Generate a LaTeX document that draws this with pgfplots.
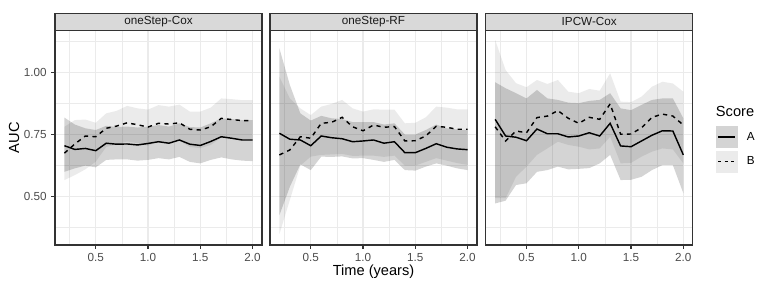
\documentclass[border=0pt]{standalone}
\usepackage{fontspec}
\setmainfont{Liberation Sans}
\usepackage{pgfplots}
\usepackage{pgfplotstable}
\pgfplotsset{compat=1.18}
\usepgfplotslibrary{fillbetween}
\definecolor{grid92}{gray}{0.92}
\definecolor{g20}{gray}{0.2}
\definecolor{g30}{gray}{0.3}
\definecolor{g85}{gray}{0.85}
\definecolor{g10}{gray}{0.1}

\pgfplotstableread{
t   A     Alo   Ahi   B     Blo   Bhi
0.2 0.705 0.600 0.818 0.675 0.567 0.781
0.3 0.690 0.614 0.790 0.712 0.587 0.808
0.4 0.694 0.625 0.775 0.744 0.610 0.810
0.5 0.685 0.618 0.768 0.741 0.641 0.797
0.6 0.715 0.648 0.785 0.775 0.700 0.835
0.7 0.711 0.650 0.780 0.784 0.710 0.845
0.8 0.712 0.650 0.782 0.797 0.722 0.865
0.9 0.708 0.645 0.778 0.789 0.715 0.855
1.0 0.714 0.648 0.782 0.780 0.705 0.850
1.1 0.721 0.655 0.788 0.795 0.722 0.868
1.2 0.715 0.650 0.782 0.792 0.718 0.862
1.3 0.728 0.660 0.795 0.797 0.725 0.870
1.4 0.711 0.640 0.780 0.771 0.700 0.842
1.5 0.706 0.634 0.778 0.768 0.695 0.842
1.6 0.722 0.648 0.795 0.781 0.708 0.858
1.7 0.741 0.658 0.815 0.815 0.738 0.895
1.8 0.735 0.650 0.812 0.810 0.735 0.892
1.9 0.728 0.645 0.808 0.806 0.730 0.888
2.0 0.728 0.643 0.808 0.806 0.728 0.888
}\pone

\pgfplotstableread{
t   A     Alo   Ahi   B     Blo   Bhi
0.2 0.755 0.426 1.096 0.668 0.350 0.982
0.3 0.731 0.540 0.949 0.688 0.487 0.895
0.4 0.728 0.630 0.835 0.741 0.625 0.855
0.5 0.705 0.607 0.806 0.735 0.661 0.828
0.6 0.744 0.661 0.825 0.795 0.668 0.862
0.7 0.737 0.660 0.815 0.799 0.670 0.873
0.8 0.733 0.662 0.812 0.819 0.672 0.889
0.9 0.721 0.654 0.800 0.781 0.664 0.855
1.0 0.724 0.655 0.800 0.765 0.665 0.842
1.1 0.728 0.648 0.800 0.788 0.665 0.851
1.2 0.715 0.640 0.790 0.779 0.660 0.850
1.3 0.721 0.648 0.795 0.782 0.665 0.850
1.4 0.677 0.607 0.750 0.724 0.625 0.795
1.5 0.677 0.605 0.750 0.725 0.625 0.797
1.6 0.694 0.621 0.768 0.744 0.640 0.819
1.7 0.713 0.634 0.790 0.783 0.655 0.862
1.8 0.699 0.625 0.775 0.779 0.645 0.858
1.9 0.692 0.614 0.770 0.771 0.635 0.851
2.0 0.689 0.607 0.768 0.771 0.628 0.851
}\ptwo

\pgfplotstableread{
t   A     Alo   Ahi   B     Blo   Bhi
0.2 0.811 0.473 0.960 0.781 0.494 1.130
0.3 0.744 0.484 0.936 0.724 0.494 1.009
0.4 0.739 0.547 0.916 0.764 0.580 0.956
0.5 0.725 0.554 0.895 0.757 0.621 0.940
0.6 0.772 0.600 0.929 0.818 0.668 0.969
0.7 0.753 0.607 0.895 0.824 0.694 0.953
0.8 0.753 0.621 0.889 0.846 0.721 0.969
0.9 0.740 0.610 0.878 0.815 0.708 0.922
1.0 0.744 0.612 0.876 0.795 0.701 0.916
1.1 0.757 0.615 0.885 0.819 0.690 0.933
1.2 0.744 0.634 0.889 0.811 0.694 0.926
1.3 0.795 0.668 0.916 0.873 0.741 0.996
1.4 0.704 0.567 0.855 0.751 0.634 0.882
1.5 0.701 0.568 0.848 0.752 0.636 0.880
1.6 0.724 0.580 0.869 0.777 0.661 0.902
1.7 0.747 0.607 0.889 0.819 0.681 0.942
1.8 0.765 0.627 0.895 0.832 0.694 0.962
1.9 0.764 0.627 0.895 0.824 0.690 0.955
2.0 0.668 0.514 0.815 0.788 0.634 0.922
}\pthree

\pgfplotsset{
  panel/.style={
    scale only axis, width=155.25bp, height=160.7bp,
    xmin=0.11, xmax=2.09, ymin=0.306, ymax=1.167,
    xtick={0.5,1,1.5,2}, ytick={0.5,0.75,1},
    minor xtick={0.25,0.75,1.25,1.75}, minor ytick={0.375,0.625,0.875,1.125},
    grid=both,
    major grid style={color=grid92, line width=1.07bp},
    minor grid style={color=grid92, line width=0.53bp},
    axis line style={g20, line width=0.9bp},
    tick align=outside, tick pos=left,
    major tick length=2.75pt, minor tick length=0pt,
    tick style={g20, line width=0.9bp},
    xticklabel style={font=\fontsize{8.8}{10}\selectfont, text=g30,
      /pgf/number format/.cd, fixed, fixed zerofill, precision=1, assume math mode=true},
    yticklabel style={font=\fontsize{8.8}{10}\selectfont, text=g30,
      /pgf/number format/.cd, fixed, fixed zerofill, precision=2, assume math mode=true},
    every axis title shift=0pt,
    title style={at={(0.5,1)}, anchor=south, fill=g85, draw=g20, line width=0.9bp,
      minimum width=155.25bp, minimum height=12.5bp, inner sep=0pt, text=g10,
      font=\fontsize{8.8}{10}\selectfont, yshift=0pt},
  },
  inner/.style={yticklabels={}, ytick style={draw=none}},
}

\begin{document}
\begin{tikzpicture}

\begin{axis}[panel, at={(41.25bp,32.25bp)}, anchor=south west,
  title={oneStep-Cox},
  ylabel={AUC},
  ylabel style={at={(axis description cs:-0.198,0.5)}, anchor=center,
    font=\fontsize{11}{13}\selectfont}]
  \addplot[draw=none, name path=ahia, forget plot] table[x=t,y=Ahi]{\pone};
  \addplot[draw=none, name path=aloa, forget plot] table[x=t,y=Alo]{\pone};
  \addplot[fill=black, fill opacity=0.17, draw=none, forget plot] fill between[of=ahia and aloa];
  \addplot[draw=none, name path=bhia, forget plot] table[x=t,y=Bhi]{\pone};
  \addplot[draw=none, name path=bloa, forget plot] table[x=t,y=Blo]{\pone};
  \addplot[fill=black, fill opacity=0.08, draw=none, forget plot] fill between[of=bhia and bloa];
  \addplot[black, line width=1.07bp, forget plot] table[x=t,y=A]{\pone};
  \addplot[black, line width=1.07bp, dash pattern=on 3.2bp off 3.2bp, forget plot] table[x=t,y=B]{\pone};
\end{axis}

\begin{axis}[panel, inner, at={(202.5bp,32.25bp)}, anchor=south west,
  title={oneStep-RF},
  xlabel={Time (years)},
  xlabel style={at={(axis description cs:0.5,-0.126)}, anchor=center,
    font=\fontsize{11}{13}\selectfont}]
  \addplot[draw=none, name path=ahib, forget plot] table[x=t,y=Ahi]{\ptwo};
  \addplot[draw=none, name path=alob, forget plot] table[x=t,y=Alo]{\ptwo};
  \addplot[fill=black, fill opacity=0.17, draw=none, forget plot] fill between[of=ahib and alob];
  \addplot[draw=none, name path=bhib, forget plot] table[x=t,y=Bhi]{\ptwo};
  \addplot[draw=none, name path=blob, forget plot] table[x=t,y=Blo]{\ptwo};
  \addplot[fill=black, fill opacity=0.08, draw=none, forget plot] fill between[of=bhib and blob];
  \addplot[black, line width=1.07bp, forget plot] table[x=t,y=A]{\ptwo};
  \addplot[black, line width=1.07bp, dash pattern=on 3.2bp off 3.2bp, forget plot] table[x=t,y=B]{\ptwo};
\end{axis}

\begin{axis}[panel, inner, at={(364.3bp,32.25bp)}, anchor=south west,
  title={IPCW-Cox}, clip=false,
  legend style={at={(1.111,0.555)}, anchor=north west, draw=none, fill=none,
    inner sep=0pt, row sep=2.25bp, column sep=7bp,
    font=\fontsize{8.8}{10}\selectfont, nodes={inner sep=0pt}},
  legend cell align=left]
  \addplot[draw=none, name path=ahic, forget plot] table[x=t,y=Ahi]{\pthree};
  \addplot[draw=none, name path=aloc, forget plot] table[x=t,y=Alo]{\pthree};
  \addplot[fill=black, fill opacity=0.17, draw=none, forget plot] fill between[of=ahic and aloc];
  \addplot[draw=none, name path=bhic, forget plot] table[x=t,y=Bhi]{\pthree};
  \addplot[draw=none, name path=bloc, forget plot] table[x=t,y=Blo]{\pthree};
  \addplot[fill=black, fill opacity=0.08, draw=none, forget plot] fill between[of=bhic and bloc];
  \addplot[black, line width=1.07bp, forget plot] table[x=t,y=A]{\pthree};
  \addplot[black, line width=1.07bp, dash pattern=on 3.2bp off 3.2bp, forget plot] table[x=t,y=B]{\pthree};
\addlegendimage{legend image code/.code={%
  \fill[black!17] (0bp,-7.875bp) rectangle (15.75bp,7.875bp);
  \draw[black, line width=1.07bp] (1.5bp,0bp) -- (14.25bp,0bp);}}
\addlegendentry{A}
\addlegendimage{legend image code/.code={%
  \fill[black!8] (0bp,-7.875bp) rectangle (15.75bp,7.875bp);
  \draw[black, line width=1.07bp, dash pattern=on 2.4bp off 2.4bp] (1.5bp,0bp) -- (14.25bp,0bp);}}
\addlegendentry{B}
\node[anchor=west, font=\fontsize{11}{13}\selectfont, inner sep=0pt] at (rel axis cs:1.111,0.622) {Score};
\end{axis}
\path (0,0) rectangle (576bp,216bp);
\end{tikzpicture}
\end{document}
